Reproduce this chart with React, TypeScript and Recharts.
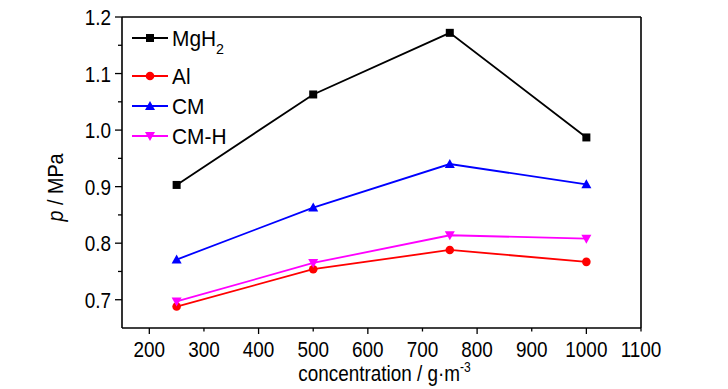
import { LineChart, Line, XAxis, YAxis, ReferenceLine, Legend } from "recharts";

const concentrations = [250, 500, 750, 1000];
const mgh2 = [0.903, 1.063, 1.172, 0.987];
const al = [0.688, 0.754, 0.788, 0.767];
const cm = [0.771, 0.863, 0.94, 0.904];
const cmh = [0.697, 0.765, 0.814, 0.808];

const xTicks = [200, 300, 400, 500, 600, 700, 800, 900, 1000, 1100];
const yTicks = [0.7, 0.75, 0.8, 0.85, 0.9, 0.95, 1.0, 1.05, 1.1, 1.15, 1.2];

const FONT = "'Liberation Sans', Arial, sans-serif";

type Shape = "square" | "circle" | "up" | "down";

const series: { key: string; name: string; color: string; shape: Shape }[] = [
  { key: "mgh2", name: "MgH", color: "#000000", shape: "square" },
  { key: "al", name: "Al", color: "#ff0000", shape: "circle" },
  { key: "cm", name: "CM", color: "#0000ff", shape: "up" },
  { key: "cmh", name: "CM-H", color: "#ff00ff", shape: "down" },
];

const chartData = concentrations.map((c, i) => ({
  c,
  mgh2: mgh2[i],
  al: al[i],
  cm: cm[i],
  cmh: cmh[i],
}));

// the reference font is a tall, slightly condensed sans; squeeze regular Liberation Sans a bit
function NText({ x, y, anchor = "start", size = 22, sx = 0.86, rotate = 0, children }: any) {
  return (
    <text
      transform={`translate(${x} ${y}) rotate(${rotate}) scale(${sx} 1)`}
      textAnchor={anchor}
      fontSize={size}
      fontFamily={FONT}
      fill="#000"
    >
      {children}
    </text>
  );
}

function Marker({ cx, cy, shape, color }: { cx: number; cy: number; shape: Shape; color: string }) {
  if (cx == null || cy == null) return null;
  if (shape === "square") return <rect x={cx - 4} y={cy - 4} width={8} height={8} fill={color} />;
  if (shape === "circle") return <circle cx={cx} cy={cy} r={4.3} fill={color} />;
  if (shape === "up")
    return <polygon points={`${cx},${cy - 5} ${cx - 5},${cy + 4} ${cx + 5},${cy + 4}`} fill={color} />;
  return <polygon points={`${cx},${cy + 5} ${cx - 5},${cy - 4} ${cx + 5},${cy - 4}`} fill={color} />;
}

const isMajorY = (v: number) => Math.abs(v * 10 - Math.round(v * 10)) < 1e-6;
const isMajorX = (v: number) => v % 200 === 0;

function XTick({ x, y, payload }: any) {
  const v = payload.value;
  return (
    <g>
      <line x1={x} x2={x} y1={y} y2={y + (isMajorX(v) ? 6 : 3.5)} stroke="#000" strokeWidth={1.3} />
      <NText x={x} y={y + 29} anchor="middle">
        {v}
      </NText>
    </g>
  );
}

function YTick({ x, y, payload }: any) {
  const v = payload.value;
  const major = isMajorY(v);
  return (
    <g>
      <line x1={x - (major ? 7 : 4)} x2={x} y1={y} y2={y} stroke="#000" strokeWidth={1.3} />
      {major && (
        <NText x={x - 11} y={y + 8} anchor="end">
          {v.toFixed(1)}
        </NText>
      )}
    </g>
  );
}

const legendRows = [18, 56, 86, 116];

function LegendBox() {
  return (
    <svg width={140} height={130} style={{ display: "block" }}>
      {series.map((s, i) => {
        const y = legendRows[i];
        return (
          <g key={s.key}>
            <line x1={4} x2={40} y1={y} y2={y} stroke={s.color} strokeWidth={1.8} />
            <Marker cx={22} cy={y} shape={s.shape} color={s.color} />
            <NText x={44} y={y + 8} size={22} sx={0.95}>
              {s.name}
              {s.key === "mgh2" && (
                <tspan dy={8} fontSize={15}>
                  2
                </tspan>
              )}
            </NText>
          </g>
        );
      })}
    </svg>
  );
}

export default function App() {
  return (
    <div style={{ position: "absolute", left: 0, top: 0, background: "#fff" }}>
      <LineChart width={728} height={389} data={chartData} margin={{ top: 17, right: 87, left: 0, bottom: 0 }}>
        <XAxis
          type="number"
          dataKey="c"
          domain={[150, 1100]}
          ticks={xTicks}
          interval={0}
          height={61}
          tickSize={0}
          tickMargin={0}
          tick={<XTick />}
          axisLine={{ stroke: "#000", strokeWidth: 1.6 }}
          label={{
            content: ({ viewBox }: any) => (
              <NText x={viewBox.x + viewBox.width / 2 + 3} y={viewBox.y + 53} anchor="middle">
                concentration / g·m
                <tspan dy={-9} fontSize={14}>
                  -3
                </tspan>
              </NText>
            ),
          }}
        />
        <YAxis
          type="number"
          domain={[0.65, 1.2]}
          ticks={yTicks}
          interval={0}
          width={122}
          tickSize={0}
          tickMargin={0}
          tick={<YTick />}
          axisLine={{ stroke: "#000", strokeWidth: 1.6 }}
          label={{
            content: ({ viewBox }: any) => (
              <NText x={63} y={viewBox.y + viewBox.height / 2 + 15} anchor="middle" rotate={-90} sx={0.9}>
                <tspan fontStyle="italic">p</tspan> / MPa
              </NText>
            ),
          }}
        />
        <ReferenceLine y={1.2} stroke="#000" strokeWidth={1.6} />
        <ReferenceLine x={1100} stroke="#000" strokeWidth={1.6} />
        <Legend
          layout="vertical"
          align="center"
          verticalAlign="middle"
          content={() => <LegendBox />}
          wrapperStyle={{ position: "absolute", left: 128, top: 20, width: 140 }}
        />
        {series.map((s) => (
          <Line
            key={s.key}
            dataKey={s.key}
            name={s.name}
            stroke={s.color}
            strokeWidth={1.8}
            isAnimationActive={false}
            dot={(p: any) => <Marker key={`${s.key}-${p.index}`} cx={p.cx} cy={p.cy} shape={s.shape} color={s.color} />}
            activeDot={false}
          />
        ))}
      </LineChart>
    </div>
  );
}
